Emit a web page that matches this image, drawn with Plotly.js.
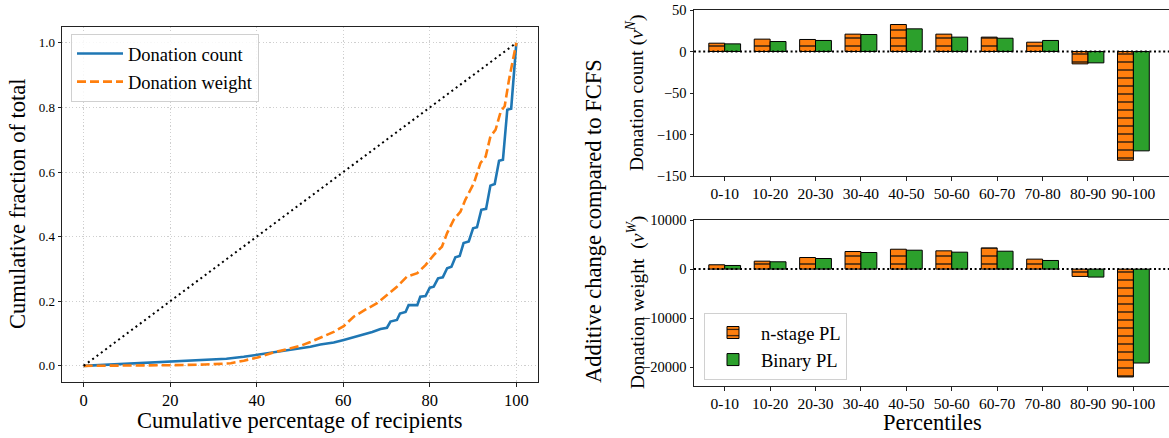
<!DOCTYPE html>
<html><head><meta charset="utf-8">
<script src="https://cdn.plot.ly/plotly-3.0.1.min.js"></script>
<style>html,body{margin:0;padding:0;overflow:hidden;background:#fff}#chart{width:1180px;height:438px}</style>
</head><body><div id="chart"></div>
<script>
// ---- data ----
const lorenzCountX = [0,10,20,28,33,37,41,44,47,50.1,52.4,54.7,57.8,60.1,62.4,64.7,66.7,68.6,70.1,70.9,72.4,73.1,74.4,75.1,77.1,77.8,79.0,80.0,80.9,81.9,83.0,84.0,85.0,85.9,86.9,87.8,89.0,90.0,90.9,91.9,93.0,94.0,95.0,96.0,96.9,97.9,98.8,100];
const lorenzCountY = [0,0.006,0.012,0.017,0.022,0.028,0.036,0.043,0.050,0.056,0.059,0.066,0.072,0.080,0.088,0.097,0.105,0.114,0.118,0.137,0.142,0.162,0.167,0.188,0.188,0.214,0.216,0.242,0.245,0.271,0.274,0.302,0.307,0.336,0.340,0.380,0.385,0.426,0.429,0.483,0.486,0.558,0.563,0.635,0.638,0.793,0.796,1.0];
const lorenzWeightX = [0,10,20,28,34,37,40.2,43.5,46.8,50.1,52.4,55.5,57.8,60.1,62.4,65.0,67.8,70.1,72.4,74.7,77.1,79.0,80.9,82.8,84.0,85.5,87.1,88.2,90.2,91.7,92.9,94.0,95.2,96.4,97.3,98.3,100];
const lorenzWeightY = [0,0,0.002,0.004,0.008,0.016,0.026,0.040,0.052,0.062,0.074,0.092,0.105,0.123,0.152,0.173,0.194,0.219,0.245,0.276,0.287,0.312,0.343,0.369,0.411,0.452,0.478,0.514,0.566,0.628,0.648,0.710,0.731,0.788,0.804,0.886,1.0];
const diagX = [0,100];
const diagY = [0,1];

const percentiles = ['0-10','10-20','20-30','30-40','40-50','50-60','60-70','70-80','80-90','90-100'];
const countNStage = [10,14.9,14.5,20.9,32.5,20.9,17.3,11.2,-14.9,-131];
const countBinary = [9.2,12,13.3,20.5,27.3,17.3,16,13.3,-13.7,-119.7];
const weightNStage = [880,1620,2360,3580,4050,3720,4320,2030,-1490,-21960];
const weightBinary = [740,1490,2160,3380,3850,3450,3650,1760,-1620,-19120];

const countTickVals = [50,0,-50,-100,-150];
const countTickText = ['50','0','\u221250','\u2212100','\u2212150'];
const weightTickVals = [10000,0,-10000,-20000];
const weightTickText = ['10000','0','\u221210000','\u221220000'];

// ---- layout helpers ----
const W = 1180, H = 438;
const px = v => v / W;
const py = v => 1 - v / H;
const FONT = '"Liberation Serif", "Times New Roman", serif';
const ORANGE = '#ff7f0e', GREEN = '#2ca02c', BLUE = '#1f77b4';
const tf = s => ({family: FONT, size: s, color: '#000'});

const nStageMarker = {color: ORANGE, line: {color: '#000', width: 1},
  pattern: {shape: '-', fgcolor: '#111', bgcolor: ORANGE, size: 8, solidity: 0.16}};
const binaryMarker = {color: GREEN, line: {color: '#000', width: 1}};

const traces = [
  {x: lorenzCountX, y: lorenzCountY, type: 'scatter', mode: 'lines', name: 'Donation count',
   line: {color: BLUE, width: 2.6}, xaxis: 'x', yaxis: 'y', legend: 'legend', legendgroup: 'a'},
  {x: lorenzWeightX, y: lorenzWeightY, type: 'scatter', mode: 'lines', name: 'Donation weight',
   line: {color: ORANGE, width: 2.6, dash: '9px,4px'}, xaxis: 'x', yaxis: 'y', legend: 'legend', legendgroup: 'b'},
  {x: diagX, y: diagY, type: 'scatter', mode: 'lines', showlegend: false,
   line: {color: '#000', width: 2, dash: '2px,3.4px'}, xaxis: 'x', yaxis: 'y'},

  {x: percentiles, y: countNStage, type: 'bar', name: 'n-stage PL', marker: nStageMarker,
   xaxis: 'x2', yaxis: 'y2', showlegend: false},
  {x: percentiles, y: countBinary, type: 'bar', name: 'Binary PL', marker: binaryMarker,
   xaxis: 'x2', yaxis: 'y2', showlegend: false},
  {x: percentiles, y: weightNStage, type: 'bar', name: 'n-stage PL', marker: nStageMarker,
   xaxis: 'x3', yaxis: 'y3', legend: 'legend2', legendgroup: 'c'},
  {x: percentiles, y: weightBinary, type: 'bar', name: 'Binary PL', marker: binaryMarker,
   xaxis: 'x3', yaxis: 'y3', legend: 'legend2', legendgroup: 'd'}
];

const axisCommon = {showline: true, linecolor: '#222', linewidth: 1, mirror: true,
  ticks: 'outside', ticklen: 3.5, tickwidth: 1, tickcolor: '#222', zeroline: false, fixedrange: true};

const layout = {
  width: W, height: H,
  margin: {l: 0, r: 0, t: 0, b: 0},
  paper_bgcolor: '#fff', plot_bgcolor: '#fff',
  font: {family: FONT, color: '#000', size: 15},
  barmode: 'group', bargap: 0.3, bargroupgap: 0,
  xaxis: Object.assign({}, axisCommon, {domain: [px(62), px(538)], range: [-5, 105], anchor: 'y',
    tickvals: [0,20,40,60,80,100], tickfont: tf(16.5),
    showgrid: true, gridcolor: '#cfcfcf', griddash: '1.2px,2.2px', gridwidth: 1}),
  yaxis: Object.assign({}, axisCommon, {domain: [py(382), py(26.7)], range: [-0.05, 1.05], anchor: 'x',
    tickvals: [0,0.2,0.4,0.6,0.8,1.0], tickformat: '.1f', tickfont: tf(13),
    showgrid: true, gridcolor: '#cfcfcf', griddash: '1.2px,2.2px', gridwidth: 1}),
  xaxis2: Object.assign({}, axisCommon, {domain: [px(694), px(1172)], range: [-0.676, 9.85], anchor: 'y2',
    type: 'category', tickfont: tf(15.5), showgrid: false}),
  yaxis2: Object.assign({}, axisCommon, {domain: [py(176), py(10)], range: [-150, 50], anchor: 'x2',
    tickvals: countTickVals, ticktext: countTickText, tickfont: tf(14.5), showgrid: false}),
  xaxis3: Object.assign({}, axisCommon, {domain: [px(694), px(1172)], range: [-0.676, 9.85], anchor: 'y3',
    type: 'category', tickfont: tf(15.5), showgrid: false}),
  yaxis3: Object.assign({}, axisCommon, {domain: [py(386), py(220)], range: [-23800, 10000], anchor: 'x3',
    tickvals: weightTickVals, ticktext: weightTickText, tickfont: tf(14.5), showgrid: false}),
  legend: {x: px(71), y: py(34), xanchor: 'left', yanchor: 'top', bgcolor: 'rgba(255,255,255,0.85)',
    bordercolor: '#d0d0d0', borderwidth: 1, font: tf(18.5), tracegroupgap: 1, traceorder: 'grouped',
    itemwidth: 46},
  legend2: {x: px(704), y: py(313), xanchor: 'left', yanchor: 'top', bgcolor: 'rgba(255,255,255,0.85)',
    bordercolor: '#d0d0d0', borderwidth: 1, font: tf(18.5), tracegroupgap: 0, traceorder: 'grouped',
    itemwidth: 46},
  shapes: [
    {type: 'line', xref: 'x2 domain', x0: 0, x1: 1, yref: 'y2', y0: 0, y1: 0, layer: 'above',
     line: {color: '#000', width: 2, dash: '2px,2.6px'}},
    {type: 'line', xref: 'x3 domain', x0: 0, x1: 1, yref: 'y3', y0: 0, y1: 0, layer: 'above',
     line: {color: '#000', width: 2, dash: '2px,2.6px'}}
  ],
  annotations: [
    {text: 'Cumulative fraction of total', xref: 'paper', yref: 'paper', x: px(17), y: py(204),
     textangle: -90, showarrow: false, font: tf(22.5), xanchor: 'center', yanchor: 'middle'},
    {text: 'Cumulative percentage of recipients', xref: 'paper', yref: 'paper', x: px(300), y: py(420),
     showarrow: false, font: tf(22.5), xanchor: 'center', yanchor: 'middle'},
    {text: 'Additive change compared to FCFS', xref: 'paper', yref: 'paper', x: px(593), y: py(221),
     textangle: -90, showarrow: false, font: tf(22.5), xanchor: 'center', yanchor: 'middle'},
    {text: 'Donation count (<i>v</i><sup><i>N</i></sup>)', xref: 'paper', yref: 'paper', x: px(636), y: py(93),
     textangle: -90, showarrow: false, font: tf(19.5), xanchor: 'center', yanchor: 'middle'},
    {text: 'Donation weight  (<i>v</i><sup><i>W</i></sup>)', xref: 'paper', yref: 'paper', x: px(636), y: py(303),
     textangle: -90, showarrow: false, font: tf(19.5), xanchor: 'center', yanchor: 'middle'},
    {text: 'Percentiles', xref: 'paper', yref: 'paper', x: px(932), y: py(422),
     showarrow: false, font: tf(22.5), xanchor: 'center', yanchor: 'middle'}
  ]
};

Plotly.newPlot('chart', traces, layout, {displayModeBar: false, staticPlot: true});
</script>
</body></html>
